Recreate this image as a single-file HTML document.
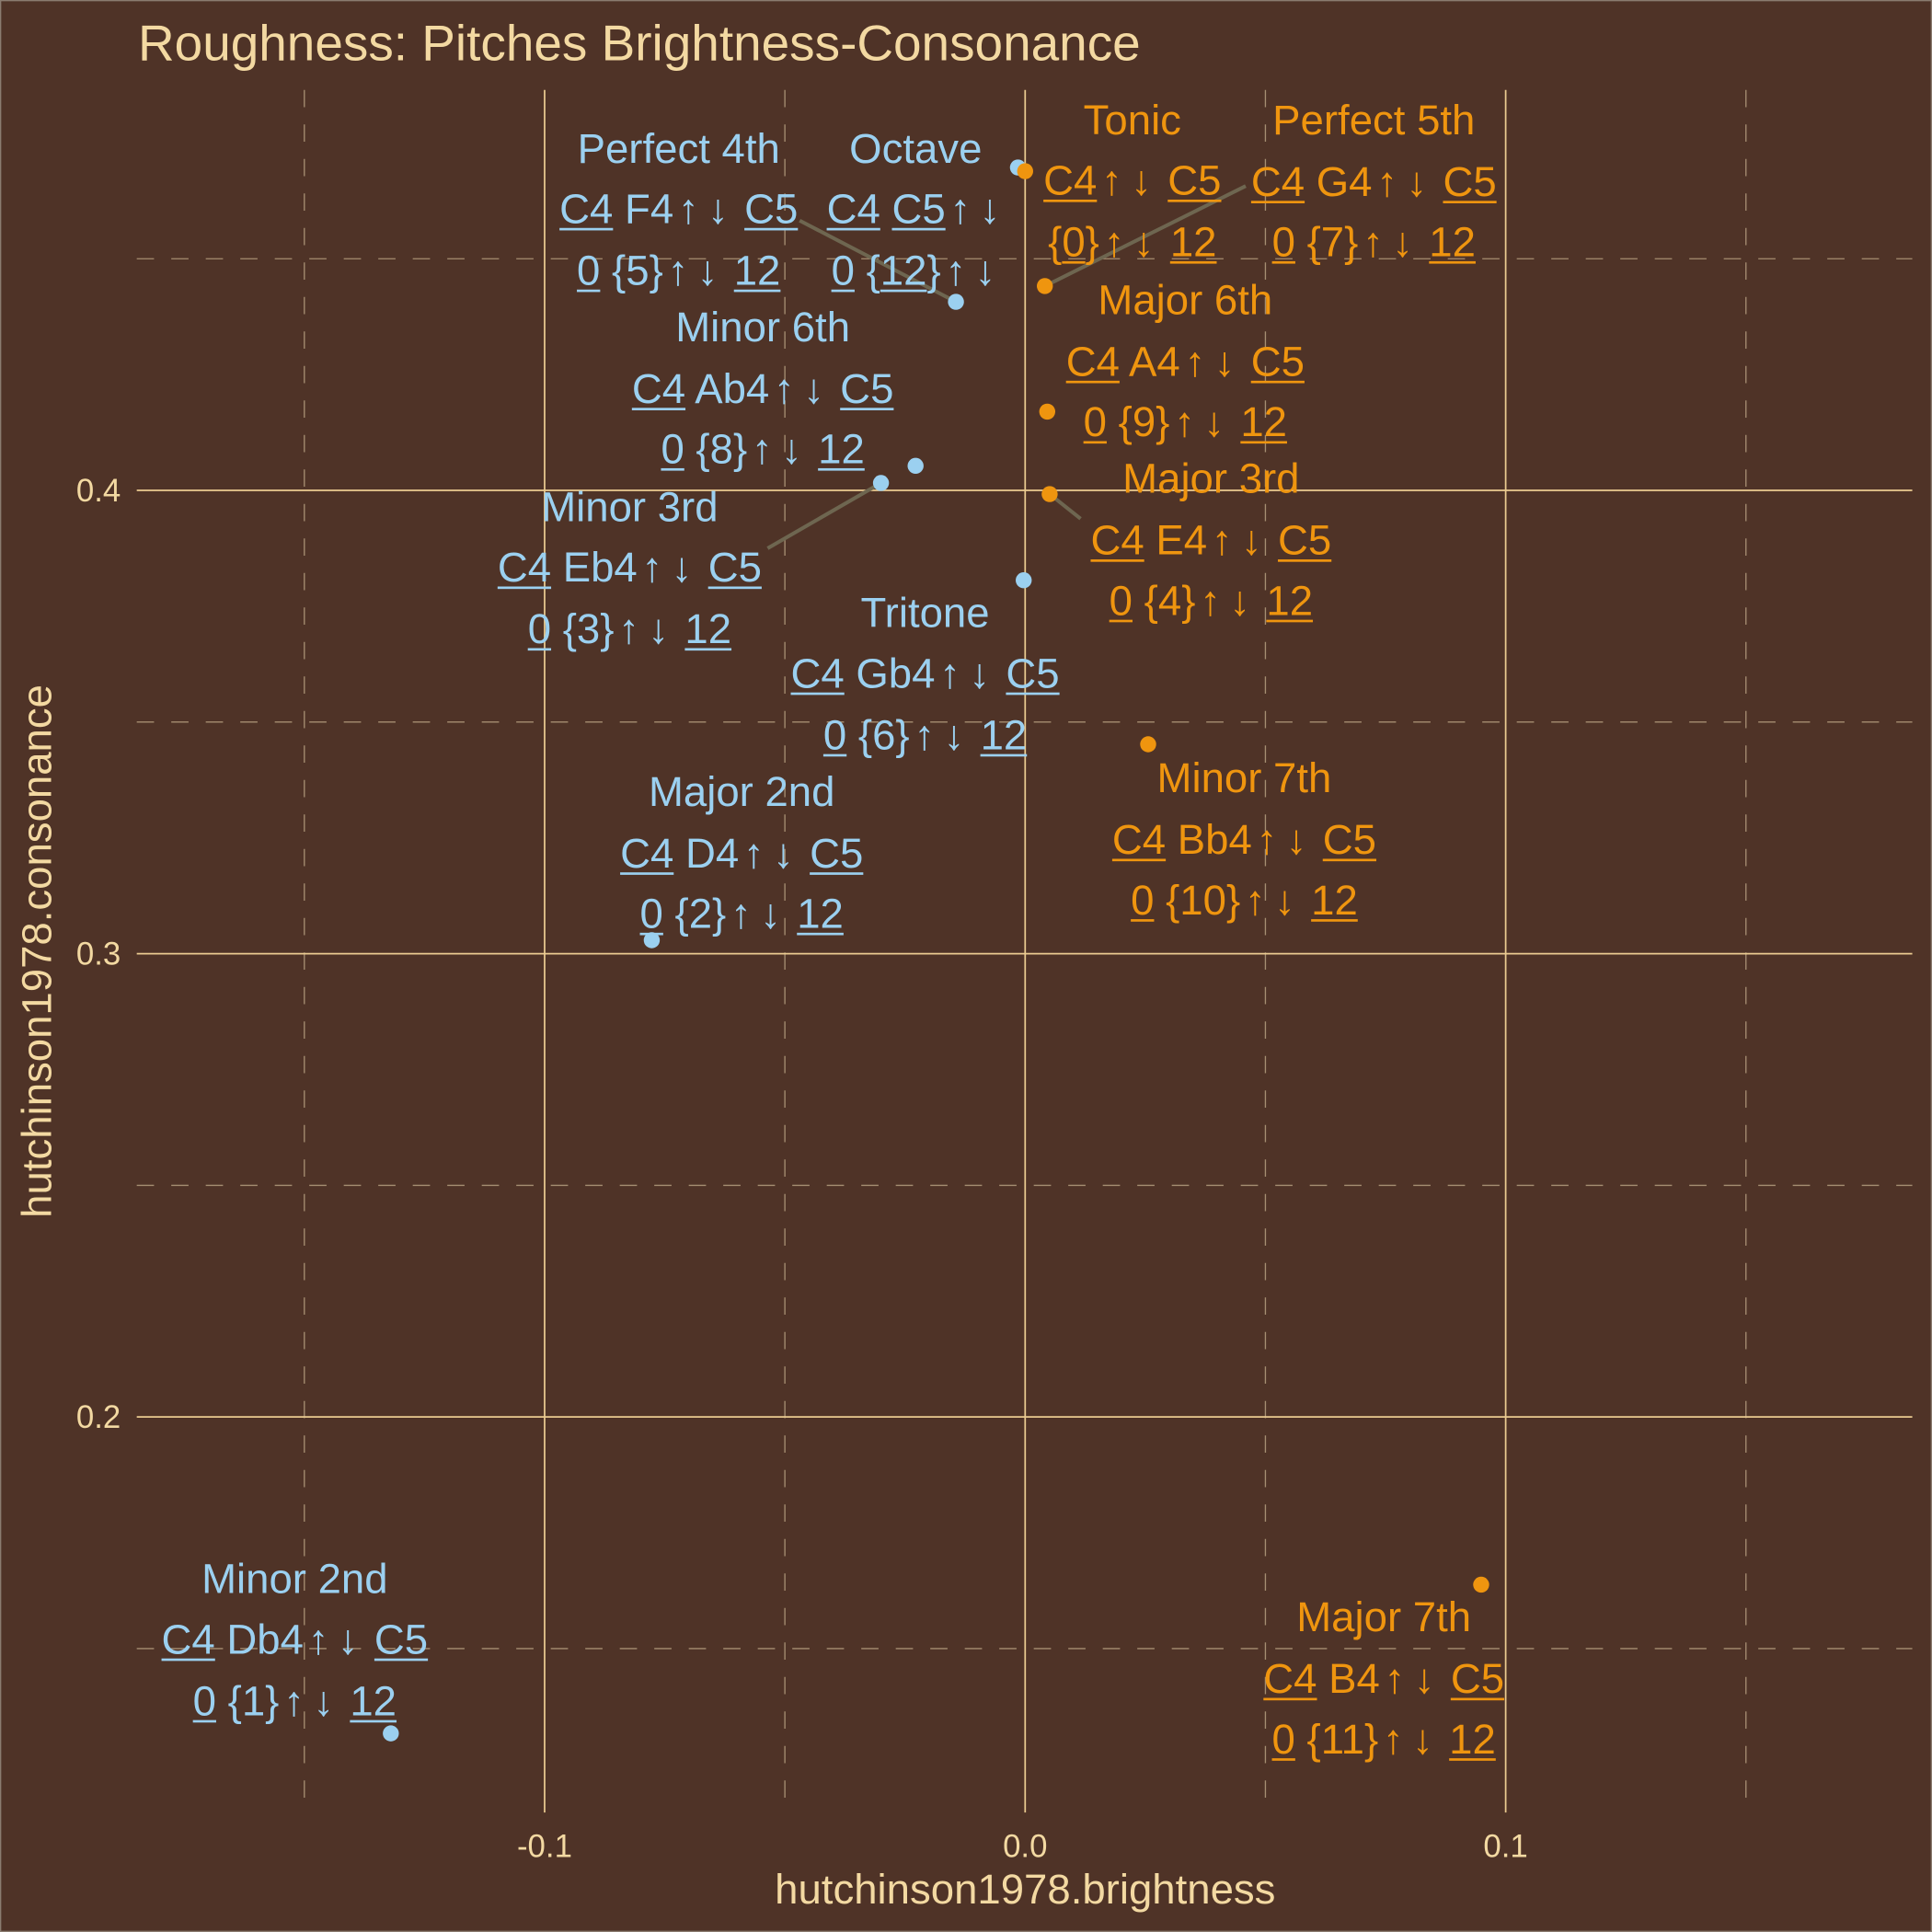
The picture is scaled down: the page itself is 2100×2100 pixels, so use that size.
<!DOCTYPE html>
<html><head><meta charset="utf-8">
<style>
html,body{margin:0;padding:0;background:#4F3327;}
#wrap{position:relative;width:2100px;height:2100px;overflow:hidden;}
#stage{position:absolute;left:0;top:0;width:1568px;height:1568px;transform:scale(1.339286);transform-origin:0 0;background:#4F3327;box-sizing:border-box;border:1.5px solid #8a7c70;font-family:"Liberation Sans",Arial,sans-serif;}
svg{position:absolute;left:0;top:0;}
.lbl{position:absolute;transform:translate(-50%,-50%);white-space:nowrap;font-size:34px;line-height:1;}
.lbl u{text-decoration-thickness:2px;text-underline-offset:4px;}
.lbl .a{display:inline-block;padding:0 3.5px;}
.t{position:absolute;color:#F3D9A2;white-space:nowrap;}
</style></head>
<body>
<div id="wrap">
<div id="stage">
<svg id="plot" width="1568" height="1568"></svg>
<div class="t" style="left:111px;top:11px;font-size:41px;">Roughness: Pitches Brightness-Consonance</div>
<div class="t" style="left:831px;top:1514px;font-size:34px;transform:translateX(-50%);">hutchinson1978.brightness</div>
<div class="t" style="left:30px;top:771px;font-size:34px;transform:translate(-50%,-50%) rotate(-90deg);">hutchinson1978.consonance</div>
</div>
</div>
<script>
const names = ["Octave","Perfect 4th","Minor 6th","Minor 3rd","Tritone","Major 2nd","Minor 2nd","Tonic","Perfect 5th","Major 6th","Major 3rd","Minor 7th","Major 7th"];
const brightness = [-0.0015,-0.0144,-0.0228,-0.030,-0.0003,-0.0777,-0.132,0.0,0.0041,0.0046,0.0051,0.0256,0.0949];
const consonance = [0.4697,0.4407,0.4053,0.4016,0.3806,0.3029,0.1317,0.4689,0.4441,0.417,0.3992,0.3452,0.1638];
const group = ["blue","blue","blue","blue","blue","blue","blue","orange","orange","orange","orange","orange","orange"];
const line2 = ["<u>C4</u> <u>C5</u>↑↓","<u>C4</u> F4↑↓ <u>C5</u>","<u>C4</u> Ab4↑↓ <u>C5</u>","<u>C4</u> Eb4↑↓ <u>C5</u>","<u>C4</u> Gb4↑↓ <u>C5</u>","<u>C4</u> D4↑↓ <u>C5</u>","<u>C4</u> Db4↑↓ <u>C5</u>","<u>C4</u>↑↓ <u>C5</u>","<u>C4</u> G4↑↓ <u>C5</u>","<u>C4</u> A4↑↓ <u>C5</u>","<u>C4</u> E4↑↓ <u>C5</u>","<u>C4</u> Bb4↑↓ <u>C5</u>","<u>C4</u> B4↑↓ <u>C5</u>"];
const line3 = ["<u>0</u> {<u>12</u>}↑↓","<u>0</u> {5}↑↓ <u>12</u>","<u>0</u> {8}↑↓ <u>12</u>","<u>0</u> {3}↑↓ <u>12</u>","<u>0</u> {6}↑↓ <u>12</u>","<u>0</u> {2}↑↓ <u>12</u>","<u>0</u> {1}↑↓ <u>12</u>","{<u>0</u>}↑↓ <u>12</u>","<u>0</u> {7}↑↓ <u>12</u>","<u>0</u> {9}↑↓ <u>12</u>","<u>0</u> {4}↑↓ <u>12</u>","<u>0</u> {10}↑↓ <u>12</u>","<u>0</u> {11}↑↓ <u>12</u>"];
// label placement offsets (layout, relative to point)
const labelDx = [-83,-225,-124,-204,-80,73,-78,87,267,112,131,78,-79];
const labelDy = [-15,-124,-112,20,27,-120,-125,-41,-134,-90,-12,28,27];
const connEnd = [null,[648,178],null,[622,444],null,null,null,null,[1010,150],null,[876,420],null,null];

const xTicks=[-0.1,0,0.1], xTickLabels=["-0.1","0.0","0.1"];
const yTicks=[0.2,0.3,0.4], yTickLabels=["0.2","0.3","0.4"];
const xMinor=[-0.15,-0.05,0.05,0.15], yMinor=[0.15,0.25,0.35,0.45];

const PL=110,PR=1551,PT=72,PB=1470;
const sx=v=>831+v*3900;
const sy=v=>397-(v-0.4)*3760;
const colors={blue:"#9BD0F0",orange:"#EF950F"};
const NS="http://www.w3.org/2000/svg";
const svg=document.getElementById('plot');
const stage=document.getElementById('stage');
function mk(tag,attrs){const e=document.createElementNS(NS,tag);for(const k in attrs)e.setAttribute(k,attrs[k]);svg.appendChild(e);return e;}
function arr(h){return h.replace(/↑/g,'<span class="a">↑</span>').replace(/↓/g,'<span class="a">↓</span>');}

xMinor.forEach(v=>{const l=mk('line',{x1:sx(v),x2:sx(v),y1:PT,y2:PB,stroke:'#A68E72','stroke-width':1,'stroke-dasharray':'14 14'});

});
yMinor.forEach(v=>{const l=mk('line',{x1:PL,x2:PR,y1:sy(v),y2:sy(v),stroke:'#A68E72','stroke-width':1,'stroke-dasharray':'14 14'});

});
xTicks.forEach((v,i)=>{const l=mk('line',{x1:sx(v),x2:sx(v),y1:PT,y2:PB,stroke:'#EBCB91','stroke-width':1.3});


const t=mk('text',{x:sx(v),y:1506,fill:'#F3D9A2','font-size':26,'text-anchor':'middle','font-family':'Liberation Sans, sans-serif'});t.textContent=xTickLabels[i];

});
yTicks.forEach((v,i)=>{const l=mk('line',{x1:PL,x2:PR,y1:sy(v),y2:sy(v),stroke:'#EBCB91','stroke-width':1.3});


const t=mk('text',{x:97,y:sy(v)+9,fill:'#F3D9A2','font-size':26,'text-anchor':'end','font-family':'Liberation Sans, sans-serif'});t.textContent=yTickLabels[i];

});

names.forEach((n,i)=>{
  const px=sx(brightness[i]),py=sy(consonance[i]);
  if(connEnd[i]){const s=mk('line',{x1:connEnd[i][0],y1:connEnd[i][1],x2:px,y2:py,stroke:'#6E6650','stroke-width':3});
    
    }
});
names.forEach((n,i)=>{
  const px=sx(brightness[i]),py=sy(consonance[i]);
  const c=mk('circle',{cx:px,cy:py,r:6.5,fill:colors[group[i]]});
  
  
  const cx=px+labelDx[i], cy=py+labelDy[i];
  const lines=[n,arr(line2[i]),arr(line3[i])];
  lines.forEach((h,k)=>{
    const d=document.createElement('div');
    d.className='lbl';
    d.style.left=cx+'px';d.style.top=(cy+k*49.5)+'px';d.style.color=colors[group[i]];
    d.innerHTML=h;
    
    
    stage.appendChild(d);
  });
});
</script>
</body></html>
